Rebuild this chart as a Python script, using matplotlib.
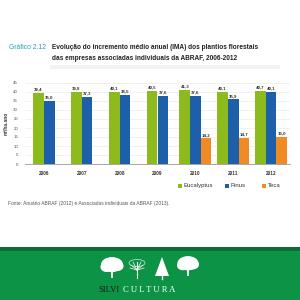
import numpy as np
import matplotlib
matplotlib.use("Agg")
import matplotlib.pyplot as plt
from matplotlib.patches import Rectangle, Ellipse, Polygon

# IMA (m3/ha.ano) por ano
years = ["2006", "2007", "2008", "2009", "2010", "2011", "2012"]
eucalyptus = [39.4, 39.8, 40.1, 40.5, 41.3, 40.1, 40.7]
pinus = [35.0, 37.3, 38.5, 37.6, 37.6, 35.9, 40.1]
teca = [None, None, None, None, 14.2, 14.7, 15.0]

series_names = ["Eucalyptus", "Pinus", "Teca"]
colors = ["#8dbb1d", "#1d5fa8", "#f08a24"]

plt.rcParams['font.family'] = ['Liberation Sans', 'DejaVu Sans']

fig = plt.figure(figsize=(3, 3), dpi=100)
fig.patch.set_facecolor("white")

# background layer in pixel coords (y from top)
bg = fig.add_axes([0, 0, 1, 1])
bg.set_xlim(0, 300)
bg.set_ylim(300, 0)
bg.axis("off")

# title
bg.add_patch(Rectangle((50, 64.5), 230, 4, color="#f2f2f2", lw=0))
bg.text(9, 47.5, "Gráfico 2.12", fontsize=4.9, color="#2b9bb3", va="center")
bg.text(52, 47.5, "Evolução do incremento médio anual (IMA) dos plantios florestais",
        fontsize=4.7, fontweight="bold", color="#222222", va="center")
bg.text(52, 59, "das empresas associadas individuais da ABRAF, 2006-2012",
        fontsize=4.7, fontweight="bold", color="#222222", va="center")

# source
bg.text(8, 203, "Fonte: Anuário ABRAF (2012) e Associadas individuais da ABRAF (2013).",
        fontsize=3.5, color="#555555", va="center")

# green footer
bg.add_patch(Rectangle((0, 247), 300, 53, color="#0c9346", lw=0))
bg.add_patch(Rectangle((0, 247), 300, 4, color="#0a6d34", lw=0))

# simple trees
def broad_tree(x, y, w, h):
    bg.add_patch(Ellipse((x, y - h * 0.62), w, h * 0.75, color="white", lw=0))
    bg.add_patch(Ellipse((x - w * 0.25, y - h * 0.5), w * 0.55, h * 0.5, color="white", lw=0))
    bg.add_patch(Ellipse((x + w * 0.25, y - h * 0.55), w * 0.55, h * 0.5, color="white", lw=0))
    bg.plot([x, x], [y, y - h * 0.35], color="white", lw=1.3)

broad_tree(112, 277, 22, 20)
broad_tree(188, 275, 21, 19)
# sparse tree
bg.plot([137, 137], [278, 262], color="white", lw=0.8)
for dx, dy in [(-6, -5), (6, -5), (-4, -8), (4, -8), (-7, -2), (7, -2)]:
    bg.plot([137, 137 + dx], [270, 270 + dy], color="white", lw=0.5)
bg.add_patch(Ellipse((137, 263), 16, 7, fill=False, ec="white", lw=0.4))
# conifer
bg.add_patch(Polygon([[162, 257], [155, 276], [169, 276]], color="white", lw=0))
bg.plot([162, 162], [276, 279], color="white", lw=1)

bg.text(98, 290, "SILVI", fontsize=6.2, family="Liberation Serif", color="#1a1a1a", va="center")
bg.text(123, 290, "C U L T U R A", fontsize=6.2, family="Liberation Serif", color="white", va="center")

# legend
leg_x = [178, 225, 262]
for lx, name, c in zip(leg_x, series_names, colors):
    bg.add_patch(Rectangle((lx, 183.5), 4, 4, color=c, lw=0))
    bg.text(lx + 5.5, 185.5, name, fontsize=4.3, color="#333333", va="center")

# chart
ax = fig.add_axes([25 / 300, 1 - 164 / 300, 265 / 300, 81 / 300])
ax.set_xlim(-0.5, 6.5)
ax.set_ylim(0, 45)
width = 0.28
all_series = [eucalyptus, pinus, teca]
for i in range(len(years)):
    present = [k for k in range(3) if all_series[k][i] is not None]
    n = len(present)
    for j, k in enumerate(present):
        xpos = i + (j - (n - 1) / 2) * width
        v = all_series[k][i]
        ax.bar(xpos, v, width, color=colors[k], zorder=3)
        ax.text(xpos, v + 0.8, f"{v:.1f}".replace(".", ","), ha="center", va="bottom",
                fontsize=3.2, fontweight="bold", color="#333333")

ax.set_yticks(np.arange(0, 46, 5))
ax.set_xticks(range(len(years)))
ax.set_xticklabels(years, fontsize=3.4, fontweight="bold", color="#333333")
ax.tick_params(axis="y", labelsize=3.2, colors="#555555", length=0, pad=5)
ax.tick_params(axis="x", length=0, pad=5)
ax.grid(axis="y", color="#e6e6e6", lw=0.4, zorder=0)
for s in ["top", "right", "left"]:
    ax.spines[s].set_visible(False)
ax.spines["bottom"].set_color("#999999")
ax.spines["bottom"].set_linewidth(0.6)
ax.set_ylabel("m³/ha.ano", fontsize=3.5, fontweight="bold", color="#333333", labelpad=3)

fig.savefig("out.png", dpi=100)
